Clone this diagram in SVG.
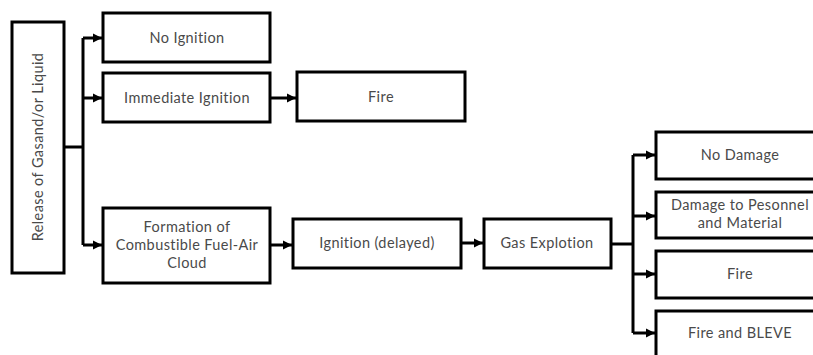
<svg xmlns="http://www.w3.org/2000/svg" width="813" height="355" viewBox="0 0 813 355">
<style>
.box{fill:#fff;stroke:#000;stroke-width:3}
.t{font-family:Lato,"Open Sans","Liberation Sans",sans-serif;font-size:14.5px;letter-spacing:0.4px;fill:#4a4a4a;text-anchor:middle}
.c{fill:none;stroke:#000;stroke-width:3}
</style>
<defs>
<marker id="ah" markerUnits="userSpaceOnUse" markerWidth="10" markerHeight="10" refX="9" refY="5" orient="auto">
<path d="M0,0.5 L9,5 L0,9.5 Z" fill="#000"/>
</marker>
</defs>
<rect width="813" height="355" fill="#fff"/>
<g id="connectors">
<path class="c" d="M64,147 H83"/>
<path class="c" d="M83,38 V245"/>
<path class="c" d="M83,38 H102" marker-end="url(#ah)"/>
<path class="c" d="M83,98 H102" marker-end="url(#ah)"/>
<path class="c" d="M83,245 H102" marker-end="url(#ah)"/>
<path class="c" d="M270,98 H296" marker-end="url(#ah)"/>
<path class="c" d="M270,245 H292" marker-end="url(#ah)"/>
<path class="c" d="M461,243 H483" marker-end="url(#ah)"/>
<path class="c" d="M611,244 H633"/>
<path class="c" d="M633,155 V333"/>
<path class="c" d="M633,155 H655" marker-end="url(#ah)"/>
<path class="c" d="M633,216 H655" marker-end="url(#ah)"/>
<path class="c" d="M633,274 H655" marker-end="url(#ah)"/>
<path class="c" d="M633,333 H655" marker-end="url(#ah)"/>
</g>
<g id="release">
<rect class="box" x="12" y="22" width="52" height="251"/>
<text class="t" transform="translate(43,147) rotate(-90)">Release of Gasand/or Liquid</text>
</g>
<g id="no-ignition">
<rect class="box" x="103" y="13" width="167" height="49"/>
<text class="t" x="187" y="43">No Ignition</text>
</g>
<g id="immediate-ignition">
<rect class="box" x="103" y="73" width="167" height="49"/>
<text class="t" x="187" y="103">Immediate Ignition</text>
</g>
<g id="fire1">
<rect class="box" x="297" y="72" width="168" height="49"/>
<text class="t" x="381" y="102">Fire</text>
</g>
<g id="formation">
<rect class="box" x="103" y="208" width="167" height="75"/>
<text class="t" x="187" y="232">Formation of</text>
<text class="t" x="187" y="250">Combustible Fuel-Air</text>
<text class="t" x="187" y="268">Cloud</text>
</g>
<g id="ignition-delayed">
<rect class="box" x="293" y="219" width="168" height="49"/>
<text class="t" x="377" y="248">Ignition (delayed)</text>
</g>
<g id="gas-explotion">
<rect class="box" x="484" y="219" width="127" height="49"/>
<text class="t" x="547" y="248">Gas Explotion</text>
</g>
<g id="no-damage">
<rect class="box" x="656" y="132" width="172" height="47"/>
<text class="t" x="740" y="160">No Damage</text>
</g>
<g id="damage">
<rect class="box" x="656" y="192" width="172" height="46"/>
<text class="t" x="740" y="210">Damage to Pesonnel</text>
<text class="t" x="740" y="228">and Material</text>
</g>
<g id="fire2">
<rect class="box" x="656" y="251" width="172" height="47"/>
<text class="t" x="740" y="279">Fire</text>
</g>
<g id="fire-bleve">
<rect class="box" x="656" y="311" width="172" height="46"/>
<text class="t" x="740" y="338">Fire and BLEVE</text>
</g>
</svg>
